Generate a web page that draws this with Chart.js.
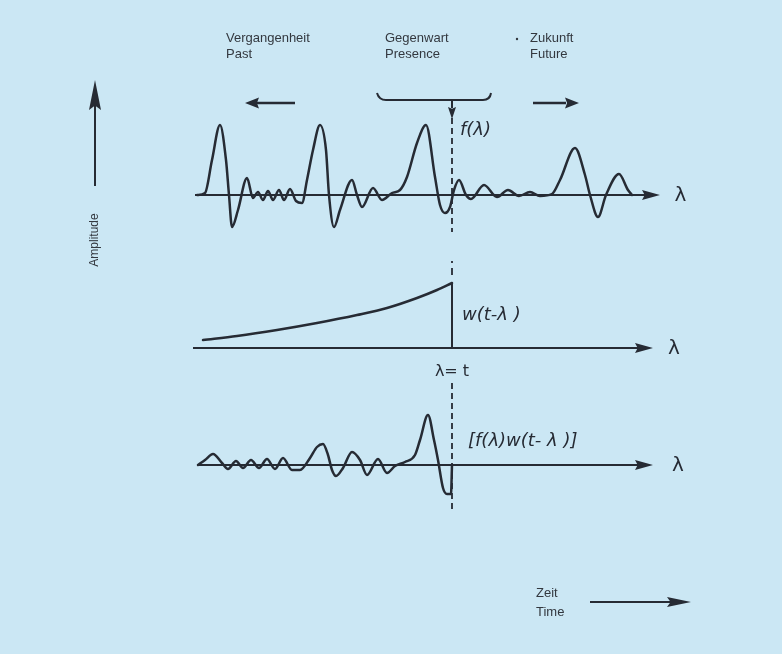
<!DOCTYPE html>
<html>
<head>
<meta charset="utf-8">
<script src="https://cdn.jsdelivr.net/npm/chart.js@4.4.1/dist/chart.umd.min.js"></script>
<style>
  html, body { margin: 0; padding: 0; background: #cbe7f4; }
  #wrap { position: relative; width: 782px; height: 654px; }
</style>
</head>
<body>
<div id="wrap"><canvas id="chart" width="782" height="654"></canvas></div>
<script>
// f(λ): the signal, past / present / future
const fLambda = [0, 1.6, 3, 4.6, 5.8, 6.4, 7, 8.2, 10, 11.2, 12.2, 13.2, 14.2, 15.2, 16.4, 17.4, 18.6, 19.8, 21, 22, 23.2, 24.6, 25.8, 26.4, 27.4, 28.6, 31, 32, 33, 35.2, 37, 39, 40.6, 42, 44, 45.8, 47.6, 48.6, 49.6, 50.6, 51.4, 52.4, 53.8, 54.8, 57.4, 60, 62.2, 64.4, 66.6, 68.6, 71, 72.6, 75.6, 77.6, 78.6, 80.2, 81.8, 84.4, 86.2, 87];
const fValues = [0, 0.2, 3.5, 7.0, 3.5, 0, -3.2, -1.5, 1.7, -0.3, 0.3, -0.5, 0.4, -0.5, 0.5, -0.5, 0.6, -0.6, -0.8, 1.5, 4.5, 7.0, 4.5, 0, -3.2, -1.5, 1.5, 0, -1.2, 0.7, -0.5, 0.2, 0.5, 1.8, 5.2, 7.0, 1.8, -1.0, -1.8, -1.2, 0.5, 1.5, 0, -0.4, 1.0, -0.2, 0.5, -0.1, 0.3, -0.1, 0.1, 1.5, 4.7, 2.0, 0, -2.2, 0, 2.1, 0.5, 0];

// w(t-λ): the weighting function, cut off at λ = t
const wLambda = [1.2, 8, 16, 24, 32, 38, 44, 48, 51];
const wValues = [0.8, 1.2, 1.8, 2.5, 3.3, 4.0, 5.0, 5.8, 6.5];

// f(λ)·w(t-λ): the weighted signal
const pLambda = [0.2, 1.6, 3.2, 5, 6.2, 7.8, 9.2, 10.8, 12.4, 14, 15.6, 17.2, 19, 20.6, 22.6, 24, 25.2, 26.2, 27, 27.8, 29.2, 31, 32.6, 34, 36.2, 38, 39.6, 41.6, 43.6, 44.6, 46.2, 47.4, 48.2, 49.2, 50, 50.8, 51];
const pValues = [0, 0.5, 1.1, 0.2, -0.4, 0.4, -0.3, 0.5, -0.3, 0.6, -0.4, 0.7, -0.5, -0.5, 0.7, 1.8, 2.1, 1.0, -0.5, -1.1, -0.3, 1.3, 0.5, -1.0, 0.6, -0.8, -0.1, 0.3, 1.0, 2.5, 5.0, 2.5, 0.5, -2.3, -2.9, -2.9, 0];

const presentLambda = 51; // λ = t

const ink = "#262b34";
const textInk = "#33383f";

function arrowHead(ctx, x, y, angle, len, half) {
  ctx.save();
  ctx.translate(x, y);
  ctx.rotate(angle);
  ctx.beginPath();
  ctx.moveTo(0, 0);
  ctx.lineTo(-len, -half);
  ctx.lineTo(-len * 0.85, 0);
  ctx.lineTo(-len, half);
  ctx.closePath();
  ctx.fill();
  ctx.restore();
}

function line(ctx, x1, y1, x2, y2) {
  ctx.beginPath();
  ctx.moveTo(x1, y1);
  ctx.lineTo(x2, y2);
  ctx.stroke();
}

const panels = [
  { scale: "yTop", from: -0.4, to: 92.6, label: 95.5 },
  { scale: "yMid", from: -0.8, to: 91.2, label: 94.2 },
  { scale: "yBot", from: 0, to: 91.2, label: 95 },
];

const axesPlugin = {
  id: "diagramAxes",
  beforeDatasetsDraw(chart) {
    const { ctx } = chart;
    const xs = chart.scales.x;
    ctx.save();
    ctx.strokeStyle = ink;
    ctx.fillStyle = ink;
    ctx.lineWidth = 2;
    panels.forEach((p) => {
      const y = chart.scales[p.scale].getPixelForValue(0);
      const x1 = xs.getPixelForValue(p.from);
      const x2 = xs.getPixelForValue(p.to);
      line(ctx, x1, y, x2 - 10, y);
      arrowHead(ctx, x2, y, 0, 18, 5);

      ctx.font = "20px 'DejaVu Sans'";
      ctx.textBaseline = "middle";
      ctx.textAlign = "left";
      ctx.fillText("λ", xs.getPixelForValue(p.label), y + 1);
    });
    ctx.restore();
  },
  afterDatasetsDraw(chart) {
    const { ctx } = chart;
    const xs = chart.scales.x;
    const tx = xs.getPixelForValue(presentLambda);
    const yTop = chart.scales.yTop.getPixelForValue(0);
    const yMid = chart.scales.yMid.getPixelForValue(0);
    const yBot = chart.scales.yBot.getPixelForValue(0);

    ctx.save();
    ctx.strokeStyle = ink;
    ctx.fillStyle = ink;

    // dashed line at λ = t
    ctx.lineWidth = 1.8;
    ctx.setLineDash([6, 4]);
    line(ctx, tx, yTop - 77, tx, yTop + 37);
    line(ctx, tx, yBot - 82, tx, yBot + 46);
    ctx.setLineDash([2, 5, 7, 5]);
    line(ctx, tx, yMid - 87, tx, yMid - 68);
    ctx.setLineDash([]);

    // bracket "Gegenwart" with arrow down
    ctx.lineWidth = 2;
    ctx.beginPath();
    ctx.moveTo(377, 93);
    ctx.quadraticCurveTo(379, 100, 386, 100);
    ctx.lineTo(483, 100);
    ctx.quadraticCurveTo(490, 100, 491, 93);
    ctx.stroke();
    line(ctx, tx, 100, tx, 108);
    arrowHead(ctx, tx, 119, Math.PI / 2, 12, 4);

    // past / future arrows
    ctx.lineWidth = 2.5;
    line(ctx, 295, 103, 255, 103);
    arrowHead(ctx, 245, 103, Math.PI, 14, 5.5);
    line(ctx, 533, 103, 566, 103);
    arrowHead(ctx, 579, 103, 0, 14, 5.5);

    // amplitude arrow
    ctx.lineWidth = 2;
    line(ctx, 95, 186, 95, 104);
    arrowHead(ctx, 95, 80, -Math.PI / 2, 30, 6);

    // time arrow
    line(ctx, 590, 602, 674, 602);
    arrowHead(ctx, 691, 602, 0, 24, 5);

    // small texts
    ctx.fillStyle = textInk;
    ctx.textBaseline = "middle";
    ctx.textAlign = "left";
    ctx.font = "13px 'Liberation Sans', Arial, sans-serif";
    ctx.fillText("Vergangenheit", 226, 38);
    ctx.fillText("Past", 226, 54);
    ctx.fillText("Gegenwart", 385, 38);
    ctx.fillText("Presence", 385, 54);
    ctx.fillText("Zukunft", 530, 38);
    ctx.fillText("Future", 530, 54);
    ctx.fillText("Zeit", 536, 593);
    ctx.fillText("Time", 536, 612);
    ctx.beginPath();
    ctx.arc(517, 39, 1.2, 0, Math.PI * 2);
    ctx.fill();

    ctx.save();
    ctx.translate(95, 240);
    ctx.rotate(-Math.PI / 2);
    ctx.textAlign = "center";
    ctx.font = "12px 'Liberation Sans', Arial, sans-serif";
    ctx.fillText("Amplitude", 0, 0);
    ctx.restore();

    // function labels
    ctx.fillStyle = ink;
    ctx.font = "italic 18px 'DejaVu Sans'";
    ctx.fillText("f(λ)", tx + 8, yTop - 65);
    ctx.fillText("w(t-λ )", tx + 10, yMid - 33);
    ctx.fillText("[f(λ)w(t- λ )]", tx + 16, yBot - 24);
    ctx.textAlign = "center";
    ctx.font = "16px 'DejaVu Sans'";
    ctx.fillText("λ= t", tx, yMid + 24);

    ctx.restore();
  },
};

function toPoints(xs, ys) {
  return xs.map((x, i) => ({ x: x, y: ys[i] }));
}

const wLast = wLambda.length - 1;

new Chart(document.getElementById("chart"), {
  type: "line",
  plugins: [axesPlugin],
  data: {
    datasets: [
      {
        label: "f(λ)",
        data: toPoints(fLambda, fValues),
        yAxisID: "yTop",
        cubicInterpolationMode: "monotone",
      },
      {
        label: "w(t-λ)",
        data: toPoints(wLambda, wValues),
        yAxisID: "yMid",
        cubicInterpolationMode: "monotone",
      },
      {
        // cut-off of w at λ = t
        label: "w cut-off",
        data: [
          { x: wLambda[wLast], y: wValues[wLast] },
          { x: wLambda[wLast], y: 0 },
        ],
        yAxisID: "yMid",
        tension: 0,
        borderWidth: 2,
      },
      {
        label: "f(λ)w(t-λ)",
        data: toPoints(pLambda, pValues),
        yAxisID: "yBot",
        cubicInterpolationMode: "monotone",
      },
    ],
  },
  options: {
    responsive: false,
    animation: false,
    layout: { padding: 0 },
    elements: {
      line: { borderColor: ink, borderWidth: 2.5, fill: false, borderCapStyle: "round", borderJoinStyle: "round" },
      point: { radius: 0 },
    },
    plugins: {
      legend: { display: false },
      tooltip: { enabled: false },
    },
    scales: {
      x: { type: "linear", min: -39.4, max: 117, display: false },
      yTop: { type: "linear", min: -45.9, max: 19.5, display: false },
      yMid: { type: "linear", min: -30.6, max: 34.8, display: false },
      yBot: { type: "linear", min: -18.9, max: 46.5, display: false },
    },
  },
});
</script>
</body>
</html>
